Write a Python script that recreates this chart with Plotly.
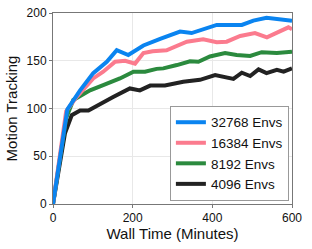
import plotly.graph_objects as go

series_names = ["4096 Envs", "8192 Envs", "16384 Envs", "32768 Envs"]
colors = ["#222222", "#2b8a3e", "#fb7b8e", "#0a84f0"]

t_4096 = [0, 30, 47, 68, 89, 118, 151, 193, 218, 244, 281, 327, 369, 407, 453, 474, 495, 516, 536, 562, 579, 600]
v_4096 = [0, 74, 93, 98, 98, 105, 112, 121, 119, 124, 124, 128, 130, 135, 131, 137.5, 134, 141, 137, 140.5, 138.5, 142]

t_8192 = [0, 33, 51, 93, 126, 168, 202, 231, 260, 277, 311, 344, 365, 394, 432, 461, 495, 524, 562, 600]
v_8192 = [0, 90, 109, 119, 124.5, 131.5, 138.5, 138.5, 141.5, 142, 145.5, 149.5, 149, 154.5, 158, 156, 155, 159, 158, 159.5]

t_16384 = [0, 33, 59, 101, 126, 156, 181, 206, 227, 250, 285, 336, 377, 411, 436, 470, 507, 537, 591, 600]
v_16384 = [0, 97, 112, 131.5, 138.5, 149, 150, 147, 158, 160, 161, 170, 172.5, 169.5, 170, 176, 179, 174.5, 185, 183]

t_32768 = [0, 36, 68, 101, 135, 160, 189, 227, 269, 319, 348, 411, 474, 503, 536, 570, 600]
v_32768 = [0, 99, 119, 137, 149, 161, 156, 166, 173, 180.5, 179, 187.5, 187.5, 192, 195, 193, 192]

x_ticks = [0, 200, 400, 600]
y_ticks = [0, 50, 100, 150, 200]

all_t = [t_4096, t_8192, t_16384, t_32768]
all_v = [v_4096, v_8192, v_16384, v_32768]

fig = go.Figure()
for name, c, t, v, rank in zip(series_names, colors, all_t, all_v, [4, 3, 2, 1]):
    fig.add_trace(go.Scatter(x=t, y=v, mode="lines", name=name,
                             line=dict(color=c, width=4), legendrank=rank))

font_family = "Liberation Sans, Arial, sans-serif"
fig.update_layout(
    width=312, height=249,
    margin=dict(l=53, r=20, t=13, b=45),
    paper_bgcolor="white", plot_bgcolor="white",
    font=dict(family=font_family, color="#111111", size=12),
    showlegend=True,
    legend=dict(x=0.987, y=0.016, xanchor="right", yanchor="bottom",
                bordercolor="#999999", borderwidth=1, bgcolor="white",
                font=dict(size=13.5, family=font_family, color="#111111"),
                tracegroupgap=0, itemwidth=30),
)
fig.update_xaxes(range=[0, 600], tickvals=x_ticks, showgrid=True, gridcolor="#e8e8e8",
                 showline=True, linecolor="#777777", linewidth=1, mirror=True,
                 ticks="outside", ticklen=3, tickcolor="#777777", zeroline=False,
                 tickfont=dict(size=12), automargin=False,
                 title=dict(text="Wall Time (Minutes)", font=dict(size=15), standoff=0))
fig.update_yaxes(range=[0, 200], tickvals=y_ticks, showgrid=True, gridcolor="#e8e8e8",
                 showline=True, linecolor="#777777", linewidth=1, mirror=True,
                 ticks="outside", ticklen=3, tickcolor="#777777", zeroline=False,
                 tickfont=dict(size=12), automargin=False,
                 title=dict(text="Motion Tracking", font=dict(size=15), standoff=5))

fig.write_html("out.html", config={"displayModeBar": False},
               post_script="document.body.style.margin='0';")
